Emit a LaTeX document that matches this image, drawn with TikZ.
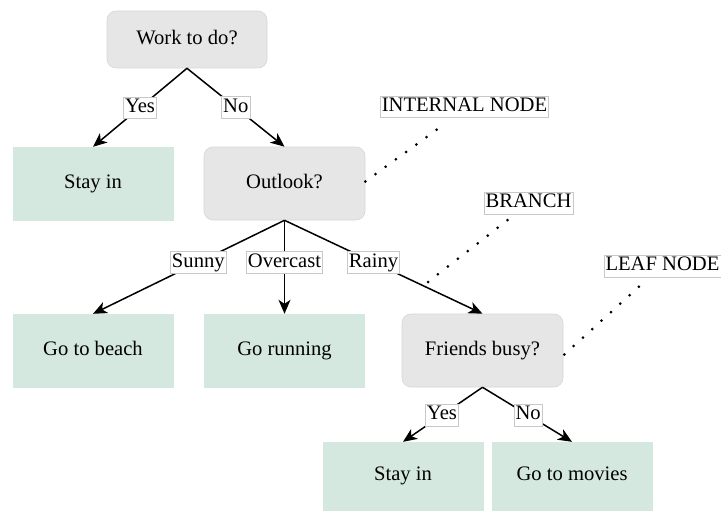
\documentclass[tikz,border=0pt]{standalone}
\usepackage{fontspec}
\setmainfont{Liberation Serif}
\usetikzlibrary{arrows.meta}
\definecolor{qgray}{HTML}{E6E6E6}
\definecolor{qgrayline}{HTML}{D6D6D6}
\definecolor{leafgreen}{HTML}{D5E8DF}
\definecolor{tagline}{HTML}{C8C8C8}
\begin{document}
\begin{tikzpicture}[x=1pt,y=-1pt,
  every node/.style={font=\fontsize{20.6}{24}\selectfont, text height=14pt, text depth=4.5pt},
  question/.style={draw=qgrayline, line width=0.6pt, fill=qgray, rounded corners=9pt,
    minimum width=160pt, minimum height=73pt, inner sep=0pt},
  leaf/.style={fill=leafgreen, draw=leafgreen, minimum width=160pt, minimum height=73pt, inner sep=0pt},
  tag/.style={fill=white, draw=tagline, line width=0.5pt, inner xsep=1.5pt, inner ysep=1.5pt},
  branchline/.style={line width=1.5pt, -{Stealth[length=14pt,width=12pt,inset=4pt]}},
  pointer/.style={line width=3pt, line cap=round, dash pattern=on 0pt off 12.6pt}]
\useasboundingbox (0,0) rectangle (721,511);

% decision nodes
\node[question, minimum height=57pt] (work) at (187,39.5) {Work to do?};
\node[question, minimum width=161pt] (outlook) at (284.5,183.5) {Outlook?};
\node[question, minimum width=161pt] (friends) at (482.5,350.5) {Friends busy?};

% leaves
\node[leaf] (stay1) at (93,183.5) {Stay in};
\node[leaf] (beach) at (93,350.5) {Go to beach};
\node[leaf] (running) at (284.5,350.5) {Go running};
\node[leaf, minimum height=68pt] (stay2) at (403,476) {Stay in};
\node[leaf, minimum height=68pt] (movies) at (572,476) {Go to movies};

% branches
\draw[branchline] (work.south) -- node[tag, pos=0.5] {Yes} (stay1.north);
\draw[branchline] (work.south) -- node[tag, pos=0.5] {No} (outlook.north);
\draw[branchline] (outlook.south) -- node[tag, pos=0.45] {Sunny} (beach.north);
\draw[branchline] (outlook.south) -- node[tag, pos=0.45] {Overcast} (running.north);
\draw[branchline] (outlook.south) -- node[tag, pos=0.45] {Rainy} (friends.north);
\draw[branchline] (friends.south) -- node[tag, pos=0.51] {Yes} (stay2.north);
\draw[branchline] (friends.south) -- node[tag, pos=0.51] {No} (movies.north);

% annotations
\node[tag] (internal) at (464.5,107) {INTERNAL NODE};
\node[tag] (branch) at (528.5,203) {BRANCH};
\node[tag] (leafnote) at (662.5,266) {LEAF NODE};

\coordinate (internalend) at (446,123);
\coordinate (branchstart) at (428,282);
\coordinate (branchend) at (509,219);
\coordinate (leafend) at (643,283);

\draw[pointer] ([yshift=2pt]outlook.east) -- (internalend);
\draw[pointer] (branchstart) -- (branchend);
\draw[pointer] ([xshift=1pt,yshift=-4pt]friends.east) -- (leafend);
\end{tikzpicture}
\end{document}
